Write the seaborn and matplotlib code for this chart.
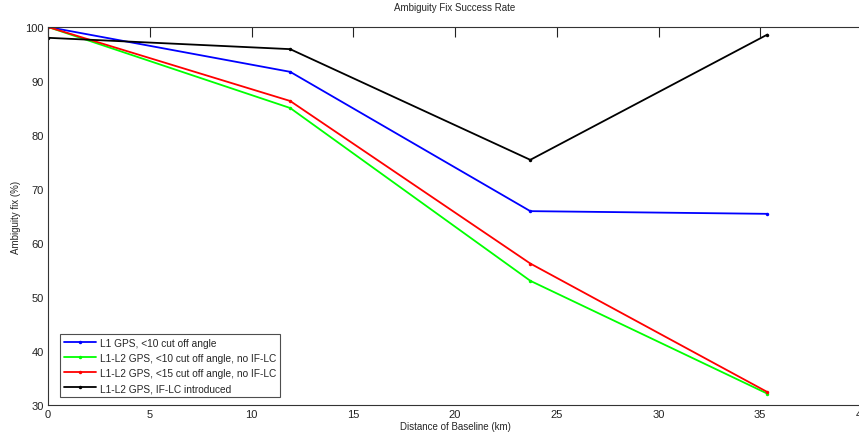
import matplotlib
matplotlib.use("Agg")
import matplotlib.pyplot as plt
import seaborn as sns
import pandas as pd

distance_km = [0, 11.9, 23.7, 35.35]
series_names = [
    "L1 GPS, <10 cut off angle",
    "L1-L2 GPS, <10 cut off angle, no IF-LC",
    "L1-L2 GPS, <15 cut off angle, no IF-LC",
    "L1-L2 GPS, IF-LC introduced",
]
l1_gps_10 = [100, 91.7, 65.9, 65.4]
l1l2_10_noiflc = [100, 85.0, 53.0, 32.1]
l1l2_15_noiflc = [100, 86.3, 56.2, 32.4]
l1l2_iflc = [98.0, 95.9, 75.4, 98.6]
colors = ["#0000ff", "#00ff00", "#ff0000", "#000000"]

rows = []
for name, vals in zip(series_names, [l1_gps_10, l1l2_10_noiflc, l1l2_15_noiflc, l1l2_iflc]):
    for x, y in zip(distance_km, vals):
        rows.append({"Distance": x, "Fix": y, "Series": name})
df = pd.DataFrame(rows)

sns.set_theme(style="white")
plt.rcParams["font.family"] = ["Liberation Sans", "DejaVu Sans"]

fig = plt.figure(figsize=(8.59, 4.35), dpi=100)
ax = fig.add_axes([48 / 859, 1 - 406 / 435, 814 / 859, 378 / 435])

sns.lineplot(data=df, x="Distance", y="Fix", hue="Series", hue_order=series_names,
             palette=colors, marker="o", markersize=2.5, markeredgewidth=0,
             linewidth=1.3, ax=ax, sort=False)

ax.set_xlim(0, 40)
ax.set_ylim(30, 100)
ax.set_xticks(range(0, 41, 5))
ax.set_yticks(range(30, 101, 10))
ax.tick_params(direction="in", length=7, width=0.8, top=True, right=False,
               labelsize=8, colors="#222222", pad=3)
for s in ax.spines.values():
    s.set_color("#333333")
    s.set_linewidth(0.8)
ax.set_title("Ambiguity Fix Success Rate", fontsize=7, pad=12)
ax.set_xlabel("Distance of Baseline (km)", fontsize=7, labelpad=1)
ax.set_ylabel("Ambiguity fix (%)", fontsize=7, labelpad=3)

leg = ax.legend(loc="lower left", bbox_to_anchor=(0.0147, 0.021), borderaxespad=0,
                fontsize=7.3, frameon=True, fancybox=False, edgecolor="#222222",
                borderpad=0.4, labelspacing=0.5, handlelength=3.2, handletextpad=0.3)
leg.get_frame().set_linewidth(0.8)

fig.savefig("out.png", dpi=100)
